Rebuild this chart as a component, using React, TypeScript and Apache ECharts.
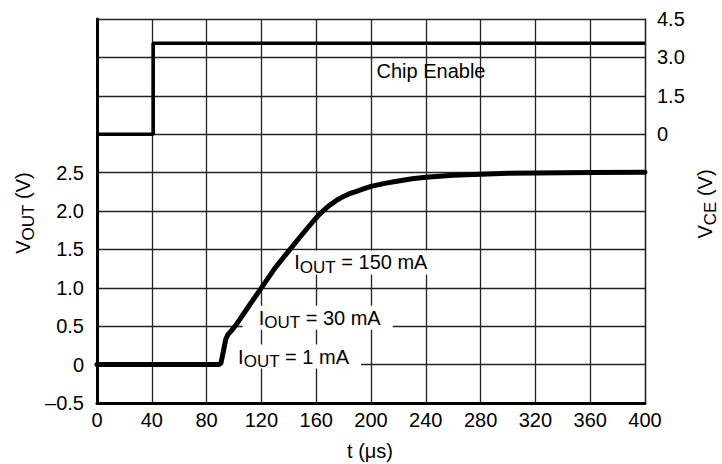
import React, { useEffect, useRef } from 'react';
import * as echarts from 'echarts';

// ---- data ----
const voutTime = [0, 89, 90.5, 92, 94, 95.5, 97, 99, 102, 110, 120, 130, 140, 150, 158, 162, 165, 168, 171, 175, 180, 185, 190, 195, 200, 210, 220, 230, 240, 260, 280, 300, 320, 360, 400];
const voutValue = [0, 0, 0.02, 0.15, 0.33, 0.39, 0.42, 0.46, 0.53, 0.74, 1.0, 1.26, 1.48, 1.7, 1.87, 1.95, 2.0, 2.05, 2.09, 2.14, 2.19, 2.23, 2.26, 2.29, 2.32, 2.36, 2.39, 2.42, 2.44, 2.465, 2.48, 2.49, 2.495, 2.5, 2.505];

const ceTime = [0, 41, 41, 400];
const ceValue = [0, 0, 3.55, 3.55];

const leftTicks = [-0.5, 0, 0.5, 1, 1.5, 2, 2.5];
const leftTickLabels = ['–0.5', '0', '0.5', '1.0', '1.5', '2.0', '2.5'];
const rightTicks = [0, 1.5, 3, 4.5];
const rightTickLabels = ['0', '1.5', '3.0', '4.5'];

const currentLabels = ['150 mA', '30 mA', '1 mA'];
const currentLabelT = [144, 118, 103];
const currentLabelV = [1.33, 0.61, 0.105];

const chipLabel = 'Chip Enable';
const chipLabelT = 204;
const chipLabelV = 2.47;

const FONT = '"Liberation Sans", Arial, Helvetica, sans-serif';
const PAD_L = 16;
const PAD_R = 12;

function lookup(ticks: number[], labels: string[], v: number) {
  for (let i = 0; i < ticks.length; i++) {
    if (Math.abs(ticks[i] - v) < 1e-6) return labels[i];
  }
  return '';
}

const rich = {
  n: { fontSize: 20, lineHeight: 24, fontFamily: FONT, color: '#000' },
  s: { fontSize: 17, lineHeight: 14, height: 14, verticalAlign: 'bottom', fontFamily: FONT, color: '#000' },
};

export default function App() {
  const ref = useRef<HTMLDivElement>(null);
  useEffect(() => {
    if (!ref.current) return;
    const chart = echarts.init(ref.current, null, { renderer: 'svg' });
    const gridColor = '#222';
    chart.setOption({
      animation: false,
      backgroundColor: '#fff',
      grid: { left: 97, right: 77, top: 19, bottom: 61 },
      xAxis: {
        type: 'value',
        min: 0,
        max: 400,
        interval: 40,
        axisLine: { show: true, onZero: false, lineStyle: { color: '#000', width: 3 } },
        axisTick: { show: false },
        axisLabel: { color: '#000', fontSize: 20, fontFamily: FONT, margin: 7 },
        splitLine: { show: true, lineStyle: { color: gridColor, width: 1.3 } },
      },
      yAxis: [
        {
          type: 'value',
          min: -0.5,
          max: 4.5,
          interval: 0.5,
          axisLine: { show: true, onZero: false, lineStyle: { color: '#000', width: 3 } },
          axisTick: { show: false },
          axisLabel: {
            color: '#000', fontSize: 20, fontFamily: FONT, margin: 13,
            formatter: (v: number) => lookup(leftTicks, leftTickLabels, v),
          },
          splitLine: { show: true, lineStyle: { color: gridColor, width: 1.3 } },
        },
        {
          type: 'value',
          position: 'right',
          min: -10.5,
          max: 4.5,
          interval: 1.5,
          axisLine: { show: true, onZero: false, lineStyle: { color: gridColor, width: 1.3 } },
          axisTick: { show: false },
          axisLabel: {
            color: '#000', fontSize: 20, fontFamily: FONT, margin: 12,
            formatter: (v: number) => lookup(rightTicks, rightTickLabels, v),
          },
          splitLine: { show: false },
        },
      ],
      series: [
        {
          type: 'line',
          name: 'VOUT',
          yAxisIndex: 0,
          showSymbol: false,
          data: voutTime.map((t, i) => [t, voutValue[i]]),
          lineStyle: { color: '#000', width: 5, join: 'round', cap: 'round' },
          z: 3,
        },
        {
          type: 'line',
          name: 'VCE',
          yAxisIndex: 1,
          showSymbol: false,
          data: ceTime.map((t, i) => [t, ceValue[i]]),
          lineStyle: { color: '#000', width: 3.6 },
          z: 3,
        },
      ],
    });

    const graphics: any[] = [];
    currentLabels.forEach((lab, i) => {
      const p = chart.convertToPixel({ xAxisIndex: 0, yAxisIndex: 0 }, [currentLabelT[i], currentLabelV[i]]);
      graphics.push({
        type: 'text',
        x: p[0] - PAD_L,
        y: p[1],
        z: 1,
        style: {
          text: `{n|I}{s|OUT}{n| = ${lab}}`,
          rich,
          align: 'left',
          verticalAlign: 'middle',
          backgroundColor: '#fff',
          padding: [0, PAD_R, 0, PAD_L],
        },
      });
    });
    const cp = chart.convertToPixel({ xAxisIndex: 0, yAxisIndex: 1 }, [chipLabelT, chipLabelV]);
    graphics.push({
      type: 'text',
      x: cp[0],
      y: cp[1],
      z: 1,
      style: { text: chipLabel, font: `20px ${FONT}`, fill: '#000', align: 'left', verticalAlign: 'middle' },
    });
    graphics.push({
      type: 'text',
      x: 23,
      y: 213,
      rotation: Math.PI / 2,
      style: { text: '{n|V}{s|OUT}{n| (V)}', rich, align: 'center', verticalAlign: 'middle' },
    });
    graphics.push({
      type: 'text',
      x: 705,
      y: 204,
      rotation: Math.PI / 2,
      style: { text: '{n|V}{s|CE}{n| (V)}', rich, align: 'center', verticalAlign: 'middle' },
    });
    graphics.push({
      type: 'text',
      x: 370,
      y: 451,
      style: { text: 't (μs)', font: `20px ${FONT}`, fill: '#000', align: 'center', verticalAlign: 'middle' },
    });
    chart.setOption({ graphic: graphics });

    return () => chart.dispose();
  }, []);
  return <div ref={ref} style={{ position: 'fixed', left: 0, top: 0, width: 722, height: 464 }} />;
}
